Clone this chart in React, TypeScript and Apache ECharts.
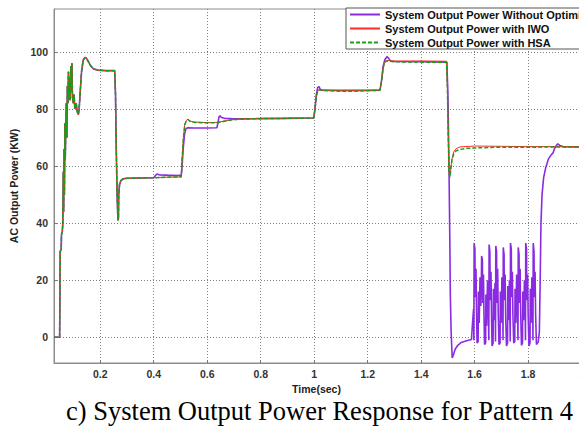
import React, { useEffect, useRef } from "react";
import * as echarts from "echarts";

const xTicks = [0.2, 0.4, 0.6, 0.8, 1, 1.2, 1.4, 1.6, 1.8, 2];
const yTicks = [0, 20, 40, 60, 80, 100];
const seriesNames = [
  "System Output Power Without Optimization",
  "System Output Power with IWO",
  "System Output Power with HSA",
];
const caption = "c) System Output Power Response for Pattern 4";

// shared start-up transient (time s, power kW)
const startup: number[][] = [
  [0.027, 0], [0.048, 0], [0.049, 12], [0.05, 30], [0.054, 31], [0.055, 36], [0.058, 37],
  [0.06, 40], [0.062, 58], [0.063, 44], [0.065, 66], [0.066, 50], [0.068, 75], [0.069, 62],
  [0.071, 72], [0.073, 82], [0.075, 70], [0.077, 88], [0.079, 82], [0.081, 93], [0.083, 84],
  [0.085, 91], [0.087, 83], [0.09, 95], [0.092, 86], [0.094, 96], [0.096, 84], [0.099, 82],
  [0.102, 85], [0.105, 80], [0.11, 82], [0.114, 79], [0.118, 78], [0.121, 80], [0.125, 86],
  [0.13, 93], [0.136, 97], [0.142, 98], [0.148, 97.8], [0.156, 96.5], [0.165, 95], [0.175, 94],
  [0.19, 93.6], [0.22, 93.4],
];

const purpleMain: number[][] = [
  [0.254, 93.4], [0.257, 85], [0.26, 65], [0.263, 50], [0.266, 41], [0.268, 41.5], [0.269, 50],
  [0.272, 53.5], [0.277, 54.9], [0.285, 55.5], [0.3, 55.7], [0.35, 55.8], [0.4, 55.9],
  [0.405, 56.5], [0.412, 57.2], [0.42, 56.9], [0.45, 56.8], [0.49, 56.7], [0.503, 56.8],
  [0.506, 60], [0.51, 66], [0.515, 71], [0.52, 73], [0.527, 73.4], [0.55, 73.3], [0.6, 73.3],
  [0.636, 73.4], [0.64, 75], [0.644, 77.2], [0.648, 77.6], [0.653, 77], [0.665, 76.7],
  [0.69, 76.6], [0.72, 76.5], [0.8, 76.6], [0.9, 76.7], [0.998, 76.8], [1.003, 80],
  [1.008, 85], [1.013, 87.5], [1.018, 87.8], [1.023, 86.8], [1.03, 86.6], [1.1, 86.5],
  [1.2, 86.5], [1.246, 86.6], [1.252, 90], [1.258, 95], [1.264, 97.2], [1.272, 98.3],
  [1.278, 97.8], [1.285, 96.8], [1.3, 96.6], [1.4, 96.5], [1.496, 96.4], [1.5, 85],
  [1.504, 60], [1.507, 35], [1.509, 15], [1.512, 2], [1.516, -7.2], [1.52, -6.3],
  [1.527, -4.2], [1.537, -2.8], [1.55, -1.8], [1.57, -1.2], [1.588, -0.8], [1.592, 5],
  [1.596, 10],
];

const purpleOscillation: number[][] = [
  [1.597, -1], [1.598, 33], [1.601, 31], [1.602, 14], [1.605, 24], [1.607, 9], [1.609, -2],
  [1.613, -1.5], [1.614, 16], [1.617, 5], [1.62, 21], [1.623, 11], [1.625, 19],
  [1.626, 28.5], [1.629, 27], [1.63, 12], [1.633, 22], [1.635, 7], [1.637, -2.5], [1.641, -2],
  [1.642, 15], [1.645, 4], [1.648, 20], [1.651, 10], [1.653, -1],
  [1.654, 32.5], [1.657, 30], [1.658, 13], [1.661, 23], [1.663, 8], [1.665, -3], [1.669, -2],
  [1.67, 17], [1.673, 6], [1.676, 19], [1.678, -1.5],
  [1.679, 32], [1.682, 30], [1.683, 12], [1.686, 24], [1.688, 9], [1.691, -2.5], [1.695, -2],
  [1.696, 16], [1.699, 5], [1.702, 21], [1.705, 10], [1.706, -1],
  [1.707, 31.5], [1.71, 29], [1.711, 13], [1.714, 22], [1.716, 7], [1.719, -3], [1.723, -2],
  [1.724, 18], [1.727, 6], [1.73, 20], [1.733, -1.5],
  [1.734, 33], [1.737, 31], [1.738, 14], [1.741, 23], [1.743, 8], [1.746, -2], [1.75, -1.5],
  [1.751, 17], [1.754, 5], [1.757, 22], [1.76, 11], [1.762, -1],
  [1.763, 31.5], [1.766, 29], [1.767, 12], [1.77, 24], [1.772, 9], [1.775, -2.8], [1.779, -2],
  [1.78, 16], [1.783, 6], [1.786, 20], [1.789, 10], [1.79, -1],
  [1.791, 33], [1.794, 31], [1.795, 13], [1.798, 22], [1.8, 8], [1.803, -3], [1.807, -2],
  [1.808, 17], [1.811, 5], [1.814, 21], [1.817, 11], [1.818, -1],
  [1.819, 33], [1.822, 30], [1.823, 14], [1.826, 23], [1.828, 8], [1.831, -2.5], [1.835, -2],
  [1.838, -1.5],
];

const purpleRecovery: number[][] = [
  [1.842, 2], [1.845, 20], [1.848, 40], [1.852, 50], [1.858, 56], [1.866, 59.5], [1.876, 62.5],
  [1.887, 64], [1.893, 64.6], [1.898, 66], [1.904, 67], [1.911, 67.8], [1.918, 67.2],
  [1.93, 66.8], [2.0, 66.7], [2.05, 66.7],
];

const iwoMain: number[][] = [
  [0.254, 93.4], [0.257, 85], [0.26, 65], [0.263, 50], [0.266, 41], [0.268, 41.5], [0.269, 50],
  [0.272, 53.5], [0.277, 54.9], [0.285, 55.5], [0.3, 55.7], [0.4, 55.9], [0.45, 56.1],
  [0.503, 56.2], [0.506, 62], [0.511, 70], [0.516, 74.6], [0.522, 76], [0.528, 76.4],
  [0.535, 75.8], [0.55, 75.4], [0.6, 75.2], [0.64, 75.3], [0.66, 75.7], [0.69, 76.2],
  [0.72, 76.5], [0.8, 76.7], [0.9, 76.8], [0.998, 76.8], [1.003, 80], [1.008, 84.6],
  [1.014, 86.4], [1.02, 86.8], [1.03, 86.6], [1.1, 86.4], [1.2, 86.5], [1.246, 86.6],
  [1.252, 90], [1.258, 94.6], [1.265, 96.7], [1.275, 97], [1.3, 96.8], [1.4, 96.8],
  [1.495, 96.7], [1.498, 88], [1.501, 72], [1.504, 58], [1.507, 56.5], [1.51, 58.5],
  [1.515, 62.5], [1.522, 65], [1.53, 66], [1.545, 66.7], [1.6, 67], [1.7, 66.9], [1.8, 66.8],
  [2.05, 66.8],
];

const hsaMain: number[][] = [
  [0.254, 93.4], [0.257, 85], [0.26, 65], [0.263, 50], [0.266, 41], [0.268, 41.5], [0.269, 50],
  [0.272, 53.5], [0.277, 54.9], [0.285, 55.5], [0.3, 55.7], [0.4, 55.9], [0.45, 56.1],
  [0.503, 56.2], [0.506, 62], [0.511, 70], [0.516, 74.5], [0.522, 75.9], [0.528, 76.3],
  [0.535, 75.7], [0.55, 75.3], [0.6, 75.1], [0.64, 75.2], [0.66, 75.6], [0.69, 76.1],
  [0.72, 76.4], [0.8, 76.6], [0.9, 76.7], [0.998, 76.7], [1.003, 80], [1.008, 84.5],
  [1.014, 86.3], [1.02, 86.7], [1.03, 86.5], [1.1, 86.2], [1.15, 86.2], [1.2, 86.4],
  [1.246, 86.5], [1.252, 90], [1.258, 94.5], [1.265, 96.5], [1.275, 96.8], [1.3, 96.5],
  [1.4, 96.4], [1.495, 96.3], [1.498, 88], [1.501, 72], [1.504, 58], [1.507, 56], [1.51, 58],
  [1.515, 62], [1.522, 64.3], [1.53, 65.3], [1.545, 65.8], [1.57, 66.2], [1.62, 66.4],
  [1.7, 66.6], [1.8, 66.6], [2.05, 66.7],
];

const FONT = "'Liberation Sans', Arial, sans-serif";

export default function App() {
  const ref = useRef<HTMLDivElement>(null);
  useEffect(() => {
    if (!ref.current) return;
    const chart = echarts.init(ref.current, undefined, { renderer: "svg" });
    const purple = [...startup, ...purpleMain, ...purpleOscillation, ...purpleRecovery];
    const red = [...startup, ...iwoMain];
    const green = [...startup, ...hsaMain];
    chart.setOption({
      animation: false,
      backgroundColor: "#ffffff",
      grid: {
        left: 54,
        top: 9,
        width: 541,
        height: 354,
        outerBoundsMode: "none",
        containLabel: false,
        show: true,
        borderColor: "#8c8c8c",
        borderWidth: 1,
        backgroundColor: "transparent",
      },
      legend: {
        orient: "vertical",
        left: 346,
        top: 8,
        itemWidth: 30,
        itemHeight: 13,
        itemGap: 3,
        padding: [1, 4, 1, 3],
        borderColor: "#555",
        borderWidth: 1,
        backgroundColor: "#fff",
        itemStyle: { opacity: 0 },
        textStyle: { fontSize: 11, fontWeight: "bold", fontFamily: FONT, color: "#111" },
        data: seriesNames,
      },
      xAxis: {
        type: "value",
        min: 0.027,
        max: 2.05,
        axisLine: { show: true, onZero: false, lineStyle: { color: "#8c8c8c" } },
        axisTick: { show: true, inside: true, length: 3, customValues: xTicks, lineStyle: { color: "#777" } },
        axisLabel: {
          customValues: xTicks,
          color: "#333",
          fontWeight: "bold",
          fontSize: 10.5,
          fontFamily: FONT,
          margin: 5,
        },
        splitLine: { show: true, lineStyle: { color: "#808080", type: [1, 2], width: 1 } },
        name: "Time(sec)",
        nameLocation: "middle",
        nameGap: 18,
        nameTextStyle: {
          fontSize: 10.5,
          fontWeight: "bold",
          fontFamily: FONT,
          color: "#222",
          padding: [0, 16, 0, 0],
        },
      },
      yAxis: {
        type: "value",
        min: -9,
        max: 115,
        axisLine: { show: true, onZero: false, lineStyle: { color: "#8c8c8c" } },
        axisTick: { show: true, inside: true, length: 3, customValues: yTicks, lineStyle: { color: "#777" } },
        axisLabel: {
          customValues: yTicks,
          color: "#333",
          fontWeight: "bold",
          fontSize: 10.5,
          fontFamily: FONT,
          margin: 6,
        },
        splitLine: { show: true, lineStyle: { color: "#808080", type: [1, 2], width: 1 } },
        name: "AC Output Power (KW)",
        nameLocation: "middle",
        nameGap: 24,
        nameTextStyle: { fontSize: 10.5, fontWeight: "bold", fontFamily: FONT, color: "#222" },
      },
      series: [
        {
          name: seriesNames[0],
          type: "line",
          data: purple,
          symbol: "none",
          lineStyle: { color: "#8a2be2", width: 1.6 },
          itemStyle: { color: "#8a2be2" },
          z: 2,
        },
        {
          name: seriesNames[1],
          type: "line",
          data: red,
          symbol: "none",
          lineStyle: { color: "#ff2a2a", width: 1 },
          itemStyle: { color: "#ff2a2a" },
          z: 3,
        },
        {
          name: seriesNames[2],
          type: "line",
          data: green,
          symbol: "none",
          lineStyle: { color: "#16a016", width: 1.5, type: [4, 2] },
          itemStyle: { color: "#16a016" },
          z: 4,
        },
      ],
      graphic: [
        {
          type: "text",
          left: 66,
          top: 397,
          style: {
            text: caption,
            font: "26.5px 'Liberation Serif', 'Times New Roman', serif",
            fill: "#000",
          },
        },
      ],
    });
    return () => chart.dispose();
  }, []);
  return (
    <div
      ref={ref}
      style={{ position: "fixed", left: 0, top: 0, width: 579, height: 428, overflow: "hidden", background: "#fff" }}
    />
  );
}
